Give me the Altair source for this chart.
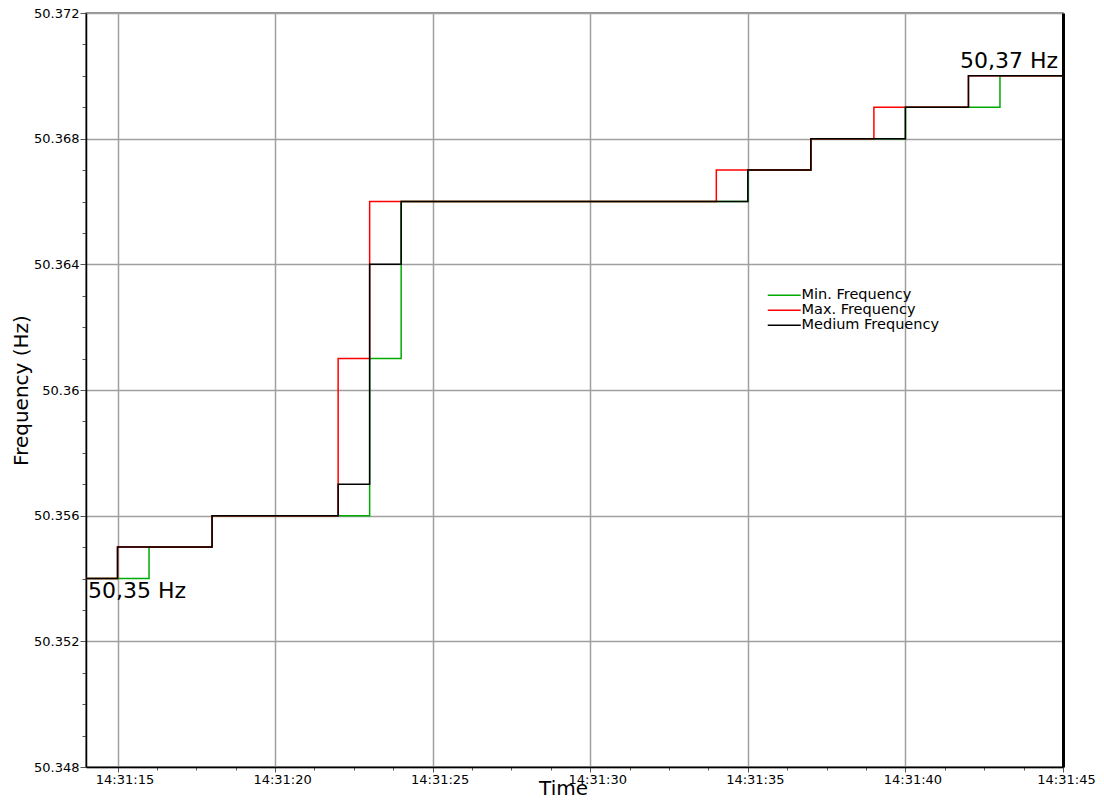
import altair as alt
import pandas as pd

# ---- data ----
seconds = list(range(14, 46))  # 14:31:14 .. 14:31:45

min_freq = [50.354, 50.354, 50.355, 50.355, 50.356, 50.356, 50.356, 50.356, 50.356,
            50.361, 50.366, 50.366, 50.366, 50.366, 50.366, 50.366, 50.366, 50.366,
            50.366, 50.366, 50.366, 50.367, 50.367, 50.368, 50.368, 50.368, 50.369,
            50.369, 50.369, 50.370, 50.370, 50.370]
max_freq = [50.354, 50.355, 50.355, 50.355, 50.356, 50.356, 50.356, 50.356, 50.361,
            50.366, 50.366, 50.366, 50.366, 50.366, 50.366, 50.366, 50.366, 50.366,
            50.366, 50.366, 50.367, 50.367, 50.367, 50.368, 50.368, 50.369, 50.369,
            50.369, 50.370, 50.370, 50.370, 50.370]
med_freq = [50.354, 50.355, 50.355, 50.355, 50.356, 50.356, 50.356, 50.356, 50.357,
            50.364, 50.366, 50.366, 50.366, 50.366, 50.366, 50.366, 50.366, 50.366,
            50.366, 50.366, 50.366, 50.367, 50.367, 50.368, 50.368, 50.368, 50.369,
            50.369, 50.370, 50.370, 50.370, 50.370]

series_names = ["Min. Frequency", "Max. Frequency", "Medium Frequency"]
series_colors = ["#00aa00", "#ff0000", "#000000"]

x_tick_ms = [15000 + 1250 * k for k in range(25)]  # major + minor tick positions
y_ticks = [round(50.348 + 0.001 * k, 3) for k in range(25)]

ann_left_text = ["50,35 Hz"]
ann_left_sec = [14]
ann_left_val = [50.354]
ann_right_text = ["50,37 Hz"]
ann_right_sec = [45]
ann_right_val = [50.370]


def ts(sec):
    return f"2020-01-01T14:31:{sec:02d}"


rows = []
for name, vals in zip(series_names, [min_freq, max_freq, med_freq]):
    for s, v in zip(seconds, vals):
        rows.append({"t": ts(s), "value": v, "series": name})
df = pd.DataFrame(rows)

ann_l = pd.DataFrame({"t": [ts(s) for s in ann_left_sec], "value": ann_left_val, "label": ann_left_text})
ann_r = pd.DataFrame({"t": [ts(s) for s in ann_right_sec], "value": ann_right_val, "label": ann_right_text})


def dt(ms):
    return alt.DateTime(year=2020, month=1, date=1, hours=14, minutes=31,
                        seconds=ms // 1000, milliseconds=ms % 1000)


x_scale = alt.Scale(domain=[dt(14000), dt(45000)], nice=False)
y_scale = alt.Scale(domain=[50.348, 50.372], nice=False, zero=False)

MAJOR_X = "datum.value % 5000 == 0"
LAST_X = "datum.value % 60000 == 45000"
MAJOR_Y = "round(datum.value*1000) % 4 == 0"

x_axis = alt.Axis(
    values=[dt(m) for m in x_tick_ms],
    labelExpr=f"{MAJOR_X} ? timeFormat(datum.value, '%H:%M:%S') : ''",
    labelFontSize=13, labelColor="black", labelFlush=False, labelOverlap=False,
    labelOffset={"condition": {"test": LAST_X, "value": 3}, "value": 7},
    labelPadding=1,
    tickColor="#555555",
    tickSize={"condition": {"test": MAJOR_X, "value": 5}, "value": 3},
    grid=True, gridColor="#a0a0a0", gridWidth=1.5,
    gridOpacity={"condition": {"test": MAJOR_X, "value": 1}, "value": 0},
    domainColor="black", domainWidth=1.5,
    title="Time", titleFontSize=20, titleFontWeight="normal", titleColor="black",
    titleX=477, titleY=27, titleBaseline="alphabetic",
)

y_axis = alt.Axis(
    values=y_ticks,
    labelExpr=f"{MAJOR_Y} ? format(datum.value, '~g') : ''",
    labelFontSize=13, labelColor="black", labelOverlap=False, labelPadding=1,
    labelFlush=False,
    tickColor="#555555",
    tickSize={"condition": {"test": MAJOR_Y, "value": 6}, "value": 4},
    grid=True, gridColor="#a0a0a0", gridWidth=1.5,
    gridOpacity={"condition": {"test": MAJOR_Y, "value": 1}, "value": 0},
    domainColor="black", domainWidth=1.5,
    title="Frequency (Hz)", titleFontSize=20, titleFontWeight="normal", titleColor="black",
    titleX=-59, titleBaseline="alphabetic",
)

lines = alt.Chart(df).mark_line(interpolate="step-after", strokeWidth=1.5).encode(
    x=alt.X("t:T", scale=x_scale, axis=x_axis),
    y=alt.Y("value:Q", scale=y_scale, axis=y_axis),
    color=alt.Color(
        "series:N",
        scale=alt.Scale(domain=series_names, range=series_colors),
        sort=series_names,
        legend=alt.Legend(
            title=None, orient="none", legendX=691, legendY=275,
            symbolType="M-5.5,0H5.5", symbolSize=36, symbolStrokeWidth=1.5,
            labelFontSize=14.5, labelOffset=10, rowPadding=0, padding=0,
            labelColor="black",
        ),
    ),
)

text_left = alt.Chart(ann_l).mark_text(
    align="left", baseline="top", dx=2, dy=2, fontSize=22, color="black"
).encode(
    x=alt.X("t:T", scale=x_scale),
    y=alt.Y("value:Q", scale=y_scale,
            axis=alt.Axis(orient="right", labels=False, ticks=False, grid=False,
                          title=None, domainColor="black", domainWidth=3)),
    text="label:N",
)

text_right = alt.Chart(ann_r).mark_text(
    align="right", baseline="alphabetic", dx=-5, dy=-8, fontSize=22, color="black"
).encode(
    x=alt.X("t:T", scale=x_scale),
    y=alt.Y("value:Q", scale=y_scale, axis=None),
    text="label:N",
)

chart = (
    alt.layer(lines, text_left, text_right)
    .resolve_axis(y="independent")
    .properties(
        width=977, height=754,
        autosize=alt.AutoSizeParams(type="none"),
        padding={"left": 78, "top": 5, "right": 33, "bottom": 30},
        background="white",
    )
    .configure(font="DejaVu Sans")
    .configure_view(stroke="#707070", strokeWidth=1.5)
)

chart.save("out.html", embed_options={"renderer": "svg", "actions": False})
